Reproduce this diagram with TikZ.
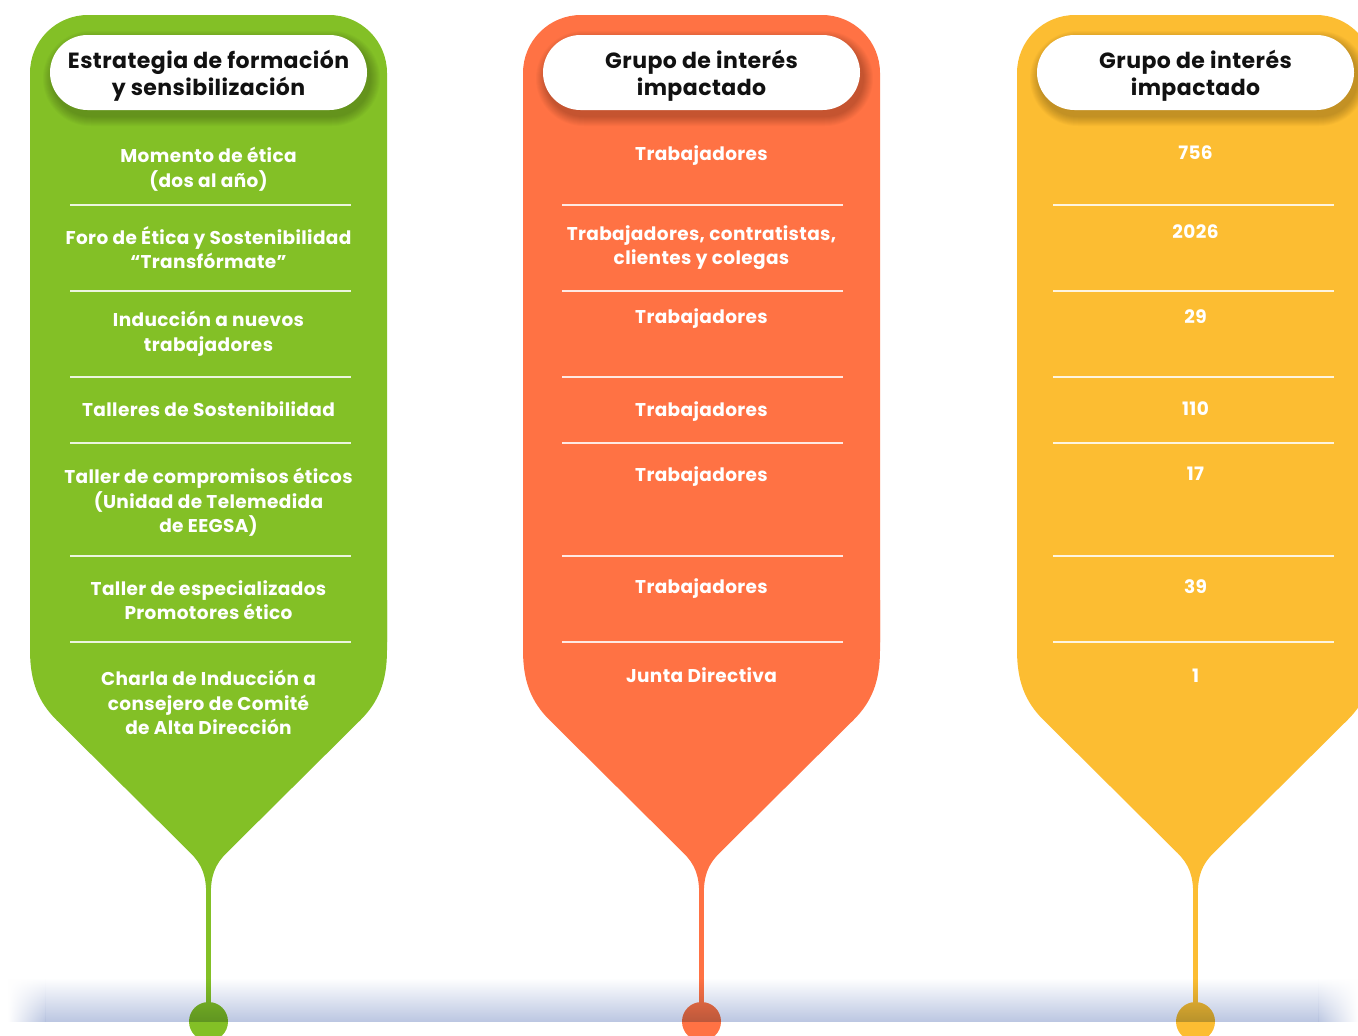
\documentclass[tikz,border=0pt]{standalone}
\usepackage{fontspec}
\setmainfont{Poppins}[LetterSpace=2]
\usetikzlibrary{fadings}

\definecolor{pinGreen}{RGB}{131,192,38}
\definecolor{pinOrange}{RGB}{255,114,68}
\definecolor{pinYellow}{RGB}{252,189,50}
\definecolor{bandBlue}{RGB}{188,199,226}
\definecolor{headInk}{RGB}{17,17,17}

\tikzfading[name=bandin, left color=transparent!100, right color=transparent!0]
\tikzfading[name=bandout, left color=transparent!0, right color=transparent!100]

\tikzset{
  rowtext/.style={text=white, font=\bfseries\fontsize{18.5}{24.5}\selectfont,
    align=center, anchor=north, inner sep=0pt, execute at begin node=\strut},
  headtext/.style={text=headInk, font=\bfseries\fontsize{22}{27}\selectfont,
    align=center, inner sep=0pt},
  sepline/.style={draw=white, opacity=0.85, line width=1.2pt},
}

\begin{document}
\begin{tikzpicture}[x=1pt, y=-1pt]
\useasboundingbox (0,0) rectangle (1358,1036);
\fill[white] (0,0) rectangle (1358,1036);

% pins: rounded top, pointed bottom, thin stem and end dot
\foreach \cx/\col/\sh in {208.5/pinGreen/2, 701.5/pinOrange/1, 1195.5/pinYellow/-2}{
  \fill[\col, rounded corners=58pt] (\cx-178.5,15) rectangle (\cx+178.5,700);
  \fill[\col] (\cx-178.5,600) -- (\cx+178.5,600) -- (\cx+178.5,650)
    .. controls (\cx+178.5,682) and (\cx+170,702) .. (\cx+152,720)
    -- (\cx+18,853)
    .. controls (\cx+6,865) and (\cx+2.3,876) .. (\cx+2.3,895)
    -- (\cx+2.3,1012) -- (\cx-2.3,1012) -- (\cx-2.3,895)
    .. controls (\cx-2.3,876) and (\cx-6,865) .. (\cx-18,853)
    -- (\cx-152,720)
    .. controls (\cx-170,702) and (\cx-178.5,682) .. (\cx-178.5,650) -- cycle;
  \fill[\col] (\cx,1021.5) circle (19.5);
  % soft shadow under the header pill
  \foreach \k in {1,...,10}{
    \pgfmathsetmacro\rr{37.5+\k}
    \fill[black, opacity=0.022, rounded corners=\rr pt]
      (\cx-158.5-\k+3,35-\k+6) rectangle (\cx+158.5+\k+3,110+\k+6);
  }
  \fill[white, rounded corners=37.5pt] (\cx-158.5,35) rectangle (\cx+158.5,110);
  % row separators
  \foreach \yy in {205,291,377,443,556,642}{
    \draw[sepline] (\cx+\sh-140.5,\yy) -- (\cx+\sh+140.5,\yy);
  }
}

% horizon band with soft ends
\begin{scope}[blend mode=multiply]
  \shade[top color=white, bottom color=bandBlue] (45,978) rectangle (1318,1021);
  \shade[top color=white, bottom color=bandBlue, path fading=bandin] (8,978) rectangle (45,1021);
  \shade[top color=white, bottom color=bandBlue, path fading=bandout] (1318,978) rectangle (1358,1021);
\end{scope}

% headers
\node[headtext] (hA) at (208.5,76) {Estrategia de formación\\y sensibilización};
\node[headtext] (hB) at (701.5,76) {Grupo de interés\\impactado};
\node[headtext] (hC) at (1195.5,76) {Grupo de interés\\impactado};

% strategy column
\node[rowtext] (a1) at (208.5,147) {Momento de ética\\(dos al año)};
\node[rowtext] (a2) at (208.5,226) {Foro de Ética y Sostenibilidad\\“Transfórmate”};
\node[rowtext] (a3) at (208.5,311) {Inducción a nuevos\\trabajadores};
\node[rowtext] (a4) at (208.5,399) {Talleres de Sostenibilidad};
\node[rowtext] (a5) at (208.5,468) {Taller de compromisos éticos\\(Unidad de Telemedida\\de EEGSA)};
\node[rowtext] (a6) at (208.5,580) {Taller de especializados\\Promotores ético};
\node[rowtext] (a7) at (208.5,670) {Charla de Inducción a\\consejero de Comité\\de Alta Dirección};

% audience column
\node[rowtext] (b1) at (701.5,143) {Trabajadores};
\node[rowtext] (b2) at (701.5,225) {Trabajadores, contratistas,\\clientes y colegas};
\node[rowtext] (b3) at (701.5,306) {Trabajadores};
\node[rowtext] (b4) at (701.5,399) {Trabajadores};
\node[rowtext] (b5) at (701.5,464) {Trabajadores};
\node[rowtext] (b6) at (701.5,576) {Trabajadores};
\node[rowtext] (b7) at (701.5,665) {Junta Directiva};

% count column
\node[rowtext] (c1) at (1195.5,142) {756};
\node[rowtext] (c2) at (1195.5,221) {2026};
\node[rowtext] (c3) at (1195.5,306) {29};
\node[rowtext] (c4) at (1195.5,398) {110};
\node[rowtext] (c5) at (1195.5,463) {17};
\node[rowtext] (c6) at (1195.5,576) {39};
\node[rowtext] (c7) at (1195.5,665) {1};
\end{tikzpicture}
\end{document}
